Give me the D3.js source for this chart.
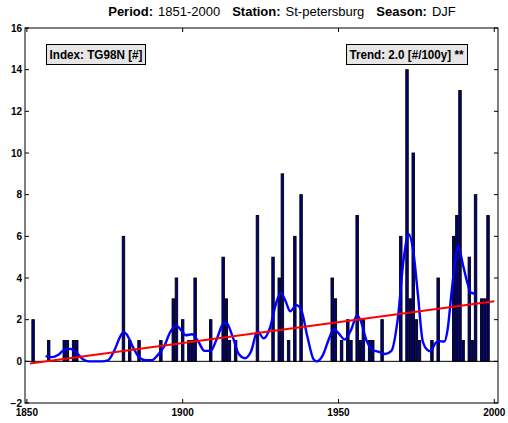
<!DOCTYPE html>
<html>
<head>
<meta charset="utf-8">
<script src="https://cdn.jsdelivr.net/npm/d3@7"></script>
<style>
  body { margin: 0; background: #fff; }
  svg { display: block; font-family: "Liberation Sans", Arial, Helvetica, sans-serif; }
</style>
</head>
<body>
<div id="chart"></div>
<script>
// yearly counts of TG98N (bars)
const barYears = [1852,1857,1862,1863,1865,1866,1881,1883,1886,1893,1897,1898,1900,1902,1903,1904,
  1909,1913,1914,1915,1917,1924,1929,1931,1932,1934,1936,1938,1948,1949,1951,1953,1954,1956,1957,
  1958,1960,1961,1964,1970,1972,1973,1974,1975,1976,1980,1982,1987,1988,1989,1990,1992,1993,1994,
  1996,1997,1998];
const barValues = [2,1,1,1,1,1,6,1,1,1,3,4,2,1,1,4,
  2,5,3,1,1,7,5,4,9,1,6,8,4,3,1,2,1,7,1,
  2,1,1,2,6,14,3,10,2,1,1,4,6,7,13,1,5,1,8,
  3,3,7];

// smoothed curve
const smoothYears = [1856,1858,1860,1862,1864,1866,1868,1870,1872,1874,1876,1878,1880,1881,1882,1884,
  1886,1888,1890,1892,1894,1896,1898,1900,1901,1903,1905,1907,1909,1911,1913,1914,1916,1918,1920,
  1922,1924,1926,1928,1930,1931.5,1933,1934.5,1936.5,1938,1940,1942,1943,1945,1947,1948.5,1950,1952,
  1954,1956,1957,1959,1961,1963,1965,1967,1969,1971,1972.5,1974,1975.5,1977,1978.5,1979.5,1981,1982,
  1984,1985,1986.5,1988.5,1990,1991.5,1992.5,1994];
const smoothValues = [0.25,0.2,0.3,0.55,0.6,0.4,0.1,0.0,0.0,0.0,0.05,0.5,1.2,1.4,1.3,0.7,
  0.2,0.05,0.05,0.3,0.7,1.4,1.7,1.4,1.25,1.3,0.95,0.5,0.5,1.1,1.8,1.85,1.2,0.35,0.15,
  0.5,1.45,1.1,1.6,2.8,3.3,2.9,2.4,2.7,2.5,1.2,0.1,0.0,0.3,1.1,1.55,1.35,1.05,
  1.5,2.2,2.0,1.0,0.55,0.45,0.35,0.5,2.0,5.0,6.1,5.3,3.2,1.0,0.55,0.48,0.85,0.97,
  0.95,1.5,3.6,5.5,4.6,3.7,3.3,3.25];

// linear trend end points
const trendYears = [1851, 2000];
const trendValues = [-0.1, 2.88];

const xTicks = [1850, 1900, 1950, 2000];
const yTicks = [-2, 0, 2, 4, 6, 8, 10, 12, 14, 16];

const W = 508, H = 423;
const plot = { left: 25, right: 498, top: 28, bottom: 403 };

const svg = d3.select("#chart").append("svg")
  .attr("width", W)
  .attr("height", H);

const x = d3.scaleLinear().domain([1849.4, 2001.2]).range([plot.left, plot.right]);
const y = d3.scaleLinear().domain([-2, 16]).range([plot.bottom, plot.top]);

// bars
const barW = x(1850.8) - x(1850);
const bars = barYears.map((yr, i) => ({ year: yr, value: barValues[i] }));
svg.append("g").selectAll("rect")
  .data(bars)
  .enter().append("rect")
  .attr("x", d => x(d.year) - barW / 2)
  .attr("y", d => y(d.value))
  .attr("width", barW)
  .attr("height", d => y(0) - y(d.value))
  .attr("fill", "#000080")
  .attr("stroke", "#000")
  .attr("stroke-width", 0.9);

// zero line
svg.append("line")
  .attr("x1", plot.left).attr("x2", plot.right)
  .attr("y1", y(0)).attr("y2", y(0))
  .attr("stroke", "#000")
  .attr("stroke-width", 1);

// smoothed curve
const smooth = smoothYears.map((yr, i) => ({ year: yr, value: smoothValues[i] }));
const smoothLine = d3.line()
  .x(d => x(d.year))
  .y(d => y(d.value))
  .curve(d3.curveMonotoneX);
svg.append("path")
  .attr("d", smoothLine(smooth))
  .attr("fill", "none")
  .attr("stroke", "#0000ff")
  .attr("stroke-width", 2.4);

// trend
const trend = trendYears.map((yr, i) => ({ year: yr, value: trendValues[i] }));
svg.append("path")
  .attr("d", d3.line().x(d => x(d.year)).y(d => y(d.value))(trend))
  .attr("fill", "none")
  .attr("stroke", "#ff0000")
  .attr("stroke-width", 2);

// axes box
svg.append("rect")
  .attr("x", plot.left).attr("y", plot.top)
  .attr("width", plot.right - plot.left)
  .attr("height", plot.bottom - plot.top)
  .attr("fill", "none")
  .attr("stroke", "#000")
  .attr("stroke-width", 1);

const tickLen = 4;
const axisFont = "bold 10px 'Liberation Sans', Arial, sans-serif";

// x ticks (inside, bottom and top)
xTicks.forEach(t => {
  svg.append("line")
    .attr("x1", x(t)).attr("x2", x(t))
    .attr("y1", plot.bottom).attr("y2", plot.bottom - tickLen)
    .attr("stroke", "#000");
  svg.append("line")
    .attr("x1", x(t)).attr("x2", x(t))
    .attr("y1", plot.top).attr("y2", plot.top + tickLen)
    .attr("stroke", "#000");
  svg.append("text")
    .attr("x", x(t))
    .attr("y", plot.bottom + 13)
    .attr("text-anchor", "middle")
    .style("font", axisFont)
    .text(t);
});

// y ticks (inside, left and right)
yTicks.forEach(t => {
  svg.append("line")
    .attr("x1", plot.left).attr("x2", plot.left + tickLen)
    .attr("y1", y(t)).attr("y2", y(t))
    .attr("stroke", "#000");
  svg.append("line")
    .attr("x1", plot.right).attr("x2", plot.right - tickLen)
    .attr("y1", y(t)).attr("y2", y(t))
    .attr("stroke", "#000");
  svg.append("text")
    .attr("x", plot.left - 3)
    .attr("y", y(t))
    .attr("dy", "0.35em")
    .attr("text-anchor", "end")
    .style("font", axisFont)
    .text(t < 0 ? "\u2212" + Math.abs(t) : t);
});

// title
const title = svg.append("text")
  .attr("x", 282)
  .attr("y", 16)
  .attr("text-anchor", "middle")
  .style("font-size", "13px");
[["Period:", true, 0], ["1851-2000", false, 5], ["Station:", true, 12], ["St-petersburg", false, 5],
 ["Season:", true, 12], ["DJF", false, 5]].forEach(([s, b, gap]) => {
  title.append("tspan")
    .attr("dx", gap)
    .attr("font-weight", b ? "bold" : "normal")
    .text(s);
});

// label boxes
function labelBox(x0, x1, txt, len) {
  svg.append("rect")
    .attr("x", x0).attr("y", 44.5)
    .attr("width", x1 - x0).attr("height", 20)
    .attr("fill", "#e6e6e6")
    .attr("stroke", "#000")
    .attr("stroke-width", 1);
  svg.append("text")
    .attr("x", x0 + 3)
    .attr("y", 59)
    .attr("textLength", len)
    .attr("lengthAdjust", "spacingAndGlyphs")
    .style("font", "bold 12px 'Liberation Sans', Arial, sans-serif")
    .text(txt);
}
labelBox(46.5, 145.5, "Index: TG98N [#]", 93);
labelBox(346.5, 467.5, "Trend: 2.0 [#/100y] **", 114);
</script>
</body>
</html>
